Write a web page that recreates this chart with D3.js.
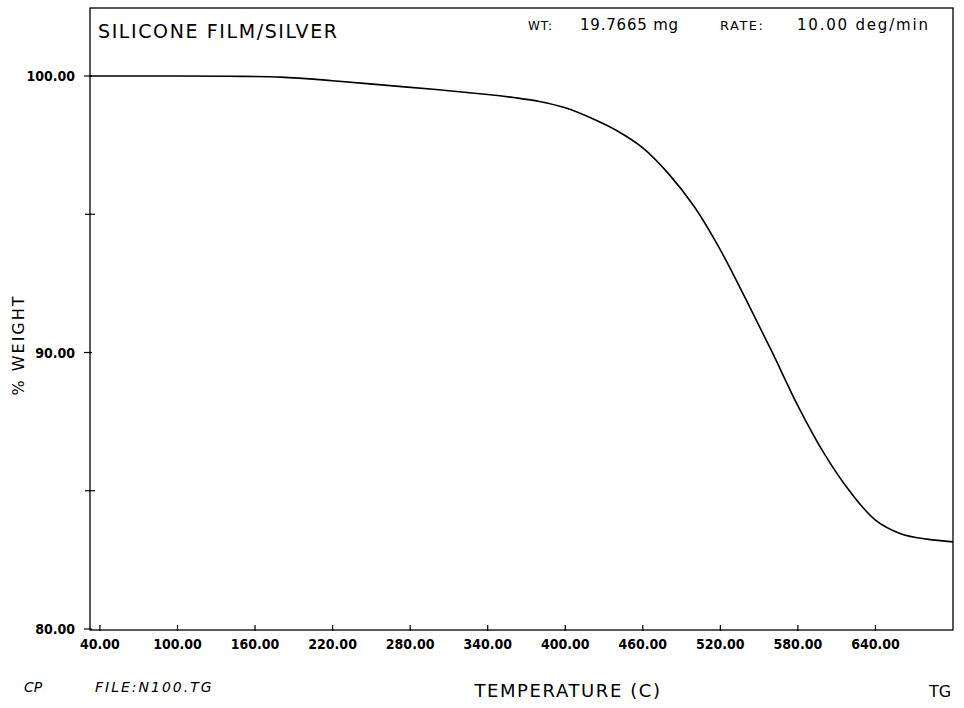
<!DOCTYPE html>
<html>
<head>
<meta charset="utf-8">
<script src="https://cdn.jsdelivr.net/npm/d3@7"></script>
<style>
  body { margin: 0; background: #fff; }
  text { fill: #000; }
</style>
</head>
<body>
<div id="chart"></div>
<script>
// TGA curve
var temps   = [32, 60, 100, 140, 180, 220, 260, 300, 340, 360, 380, 400, 420, 440, 460, 480, 500, 520, 540, 560, 580, 600, 620, 640, 660, 680, 700];
var weights = [100.00, 100.00, 100.00, 99.99, 99.96, 99.83, 99.67, 99.51, 99.33, 99.22, 99.08, 98.85, 98.48, 98.02, 97.40, 96.46, 95.26, 93.71, 91.90, 90.02, 88.07, 86.37, 84.99, 83.94, 83.44, 83.25, 83.15];
var xTicks = [40, 100, 160, 220, 280, 340, 400, 460, 520, 580, 640];
var yMajor = [80, 90, 100];
var yMinor = [85, 95];

var width = 964, height = 708;
var plotLeft = 90, plotRight = 953, plotTop = 8, plotBottom = 630;

var svg = d3.select("#chart").append("svg")
    .attr("width", width)
    .attr("height", height);

var x = d3.scaleLinear().domain([32.3, 700]).range([plotLeft, plotRight]);
var y = d3.scaleLinear().domain([80, 100]).range([629, 76]);

// frame
svg.append("rect")
    .attr("x", plotLeft).attr("y", plotTop)
    .attr("width", plotRight - plotLeft).attr("height", plotBottom - plotTop)
    .attr("fill", "none").attr("stroke", "#000").attr("stroke-width", 1.3);

var tickFont = "'DejaVu Sans Condensed', 'DejaVu Sans', sans-serif";

// x ticks
var xg = svg.append("g");
xg.selectAll("line").data(xTicks).enter().append("line")
    .attr("x1", d => x(d)).attr("x2", d => x(d))
    .attr("y1", plotBottom - 5).attr("y2", plotBottom + 1)
    .attr("stroke", "#000").attr("stroke-width", 1.2);
xg.selectAll("text").data(xTicks).enter().append("text")
    .attr("x", d => x(d)).attr("y", 649)
    .attr("text-anchor", "middle")
    .style("font-family", tickFont)
    .style("font-size", "14px")
    .style("font-weight", "bold")
    .style("font-stretch", "condensed")
    .text(d => d3.format(".2f")(d));

// y ticks
var yg = svg.append("g");
yg.selectAll("line.maj").data(yMajor).enter().append("line")
    .attr("class", "maj")
    .attr("x1", plotLeft - 6).attr("x2", plotLeft + 2)
    .attr("y1", d => y(d)).attr("y2", d => y(d))
    .attr("stroke", "#000").attr("stroke-width", 1.2);
yg.selectAll("line.min").data(yMinor).enter().append("line")
    .attr("class", "min")
    .attr("x1", plotLeft - 5).attr("x2", plotLeft + 5)
    .attr("y1", d => y(d)).attr("y2", d => y(d))
    .attr("stroke", "#000").attr("stroke-width", 1.2);
yg.selectAll("text").data(yMajor).enter().append("text")
    .attr("x", 75).attr("y", d => y(d) + 5)
    .attr("text-anchor", "end")
    .style("font-family", tickFont)
    .style("font-size", "14px")
    .style("font-weight", "bold")
    .style("font-stretch", "condensed")
    .text(d => d3.format(".2f")(d));

// curve
var line = d3.line()
    .x((d, i) => x(temps[i]))
    .y(d => y(d))
    .curve(d3.curveCatmullRom.alpha(0.5));
svg.append("path")
    .datum(weights)
    .attr("d", line)
    .attr("fill", "none")
    .attr("stroke", "#000")
    .attr("stroke-width", 1.6);

// header texts
var plotFont = "'DejaVu Sans', sans-serif";
svg.append("text")
    .attr("x", 98).attr("y", 38)
    .style("font-family", plotFont).style("font-size", "19px")
    .style("letter-spacing", "1.6px")
    .text("SILICONE FILM/SILVER");

var hdr = [
  {t: "WT:", x: 528, s: "12px", ls: "1px"},
  {t: "19.7665 mg", x: 580, s: "15px", ls: "0.8px"},
  {t: "RATE:", x: 720, s: "13px", ls: "1.5px"},
  {t: "10.00 deg/min", x: 797, s: "15px", ls: "1.8px"}
];
svg.selectAll("text.hdr").data(hdr).enter().append("text")
    .attr("class", "hdr")
    .attr("x", d => d.x).attr("y", 30)
    .style("font-family", plotFont).style("font-size", d => d.s)
    .style("letter-spacing", d => d.ls)
    .text(d => d.t);

// axis titles
svg.append("text")
    .attr("transform", "translate(24,345) rotate(-90)")
    .attr("text-anchor", "middle")
    .style("font-family", plotFont).style("font-size", "16px")
    .style("letter-spacing", "2px")
    .text("% WEIGHT");

svg.append("text")
    .attr("x", 568).attr("y", 697)
    .attr("text-anchor", "middle")
    .style("font-family", plotFont).style("font-size", "18px")
    .style("letter-spacing", "1.6px")
    .text("TEMPERATURE (C)");

svg.append("text")
    .attr("x", 24).attr("y", 692)
    .style("font-family", plotFont).style("font-size", "14px")
    .style("font-style", "italic")
    .text("CP");
svg.append("text")
    .attr("x", 95).attr("y", 692)
    .style("font-family", plotFont).style("font-size", "14px")
    .style("font-style", "italic")
    .style("letter-spacing", "2px")
    .text("FILE:N100.TG");
svg.append("text")
    .attr("x", 929).attr("y", 697)
    .style("font-family", plotFont).style("font-size", "16px")
    .text("TG");
</script>
</body>
</html>
